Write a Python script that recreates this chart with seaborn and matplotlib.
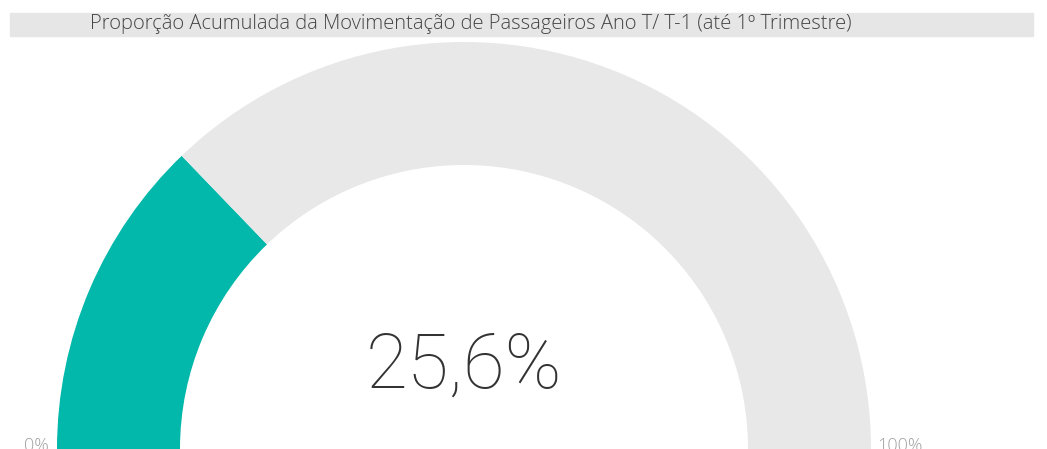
import matplotlib.pyplot as plt
import matplotlib.patches as mpatches
import seaborn as sns

# dados do gauge
titulo = 'Proporção Acumulada da Movimentação de Passageiros Ano T/ T-1 (até 1º Trimestre)'
valor = 25.6
minimo = 0
maximo = 100
rotulo_valor = '25,6%'
rotulo_min = '0%'
rotulo_max = '100%'

sns.set_theme(style='white')
plt.rcParams['font.family'] = ['Open Sans', 'DejaVu Sans']

fig = plt.figure(figsize=(10.47, 4.49), dpi=100)
ax = fig.add_axes([0, 0, 1, 1])

# semicírculo: valor, restante e metade inferior invisível
partes = [valor - minimo, maximo - valor, maximo - minimo]
ax.pie(partes, colors=['#01B8AA', '#E8E8E8', 'none'], startangle=180,
       counterclock=False, center=(464, 0), radius=407,
       wedgeprops=dict(width=123, linewidth=0), frame=True)

ax.set_xlim(0, 1047)
ax.set_ylim(0, 449)
ax.set_aspect('auto')
ax.axis('off')

# faixa do título
ax.add_patch(mpatches.Rectangle((10, 413), 1023, 23, color='#E6E6E6', zorder=0))
ax.text(90, 424.5, titulo, fontsize=14.5, color='#444444', fontweight='light',
        ha='left', va='center')

ax.text(464, 82, rotulo_valor, fontsize=55, color='#333333', ha='center',
        va='center', family=['Roboto', 'DejaVu Sans'], fontweight='light')
ax.text(24, 3, rotulo_min, fontsize=13, color='#a0a0a0', ha='left', va='center',
        fontweight='light')
ax.text(877, 3, rotulo_max, fontsize=13, color='#a0a0a0', ha='left', va='center',
        fontweight='light')

plt.savefig('out.png', dpi=100)
plt.close()
